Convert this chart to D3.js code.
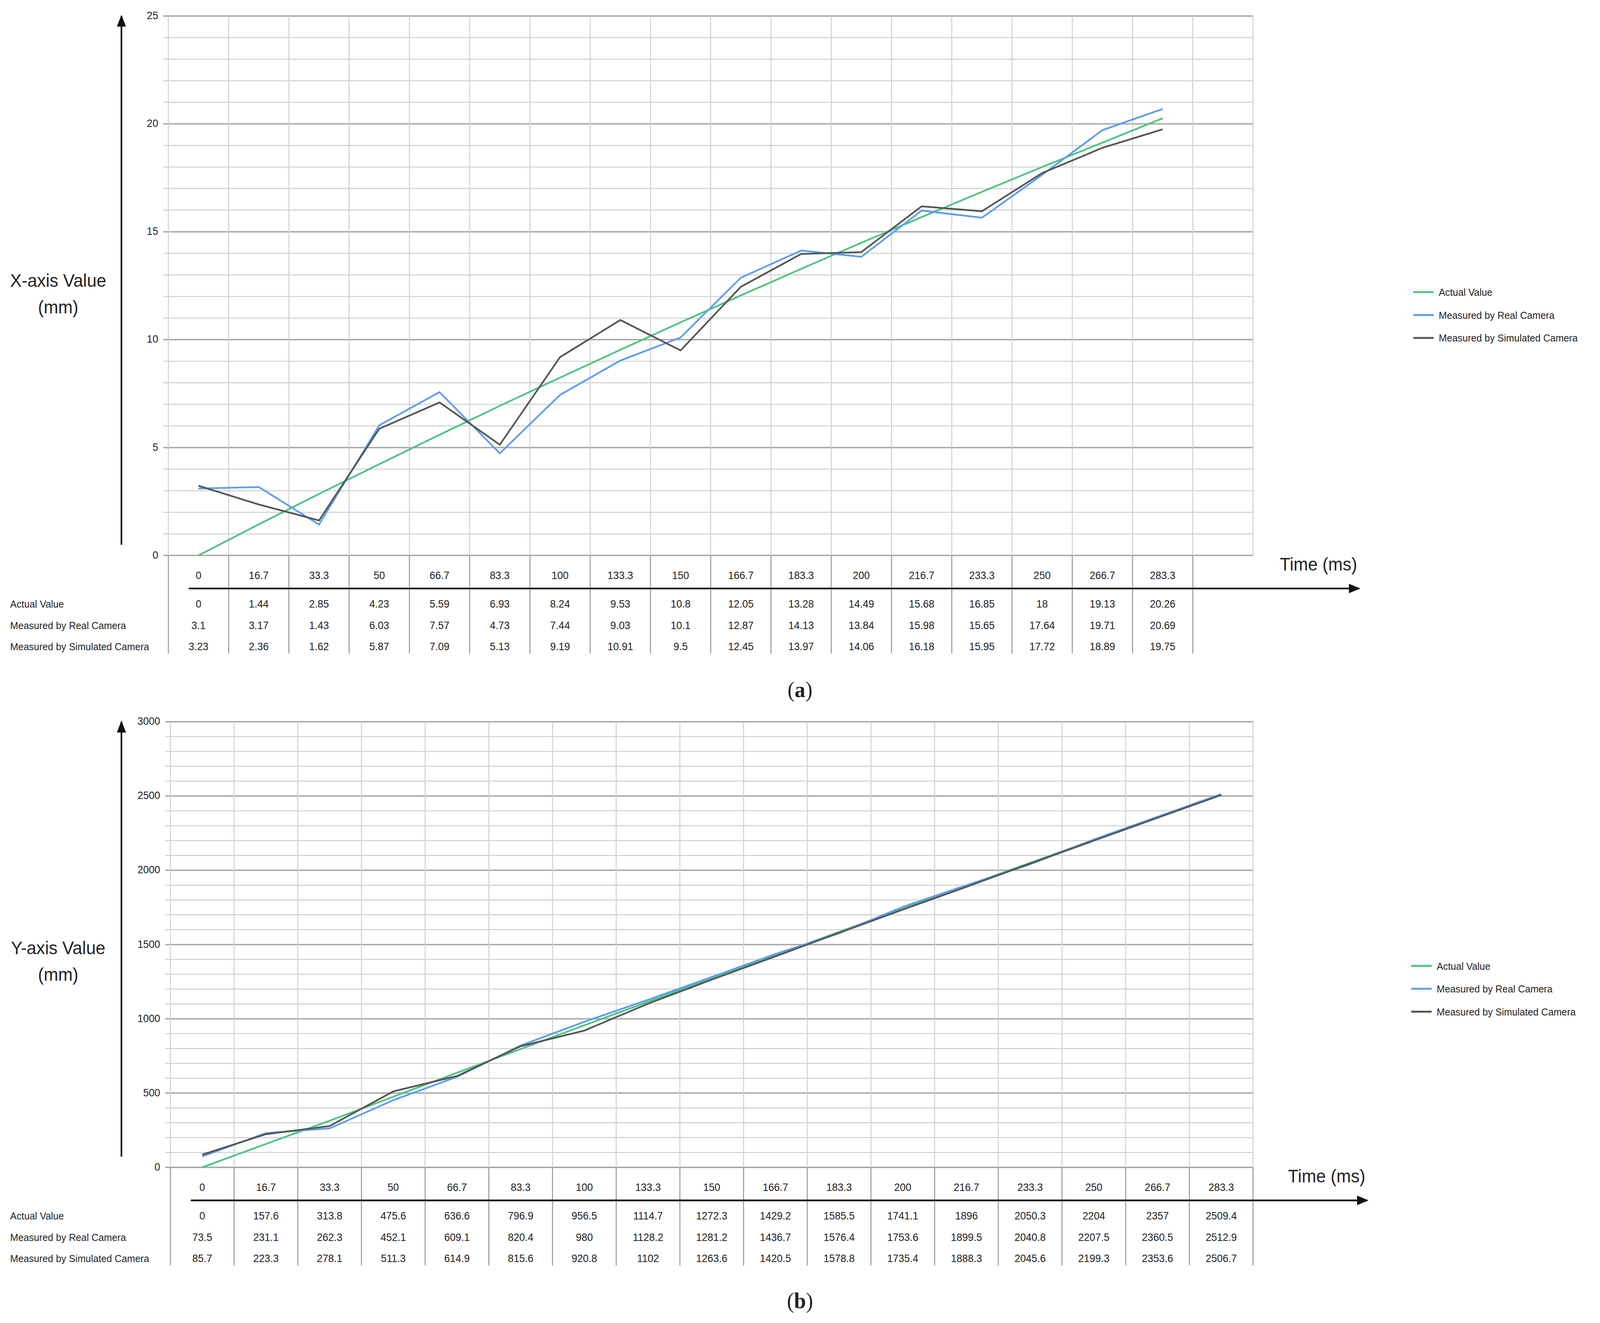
<!DOCTYPE html>
<html>
<head>
<meta charset="utf-8">
<script src="https://cdn.jsdelivr.net/npm/d3@7"></script>
<style>
  html, body { margin: 0; padding: 0; background: #fff; overflow: hidden; }
  svg { display: block; }
  text { font-family: "Liberation Sans Narrow", "Liberation Sans", sans-serif; fill: #222; }
</style>
</head>
<body>
<script>
// Shared categories (time in ms)
const times = ["0", "16.7", "33.3", "50", "66.7", "83.3", "100", "133.3", "150", "166.7", "183.3", "200", "216.7", "233.3", "250", "266.7", "283.3"];
const seriesNames = ["Actual Value", "Measured by Real Camera", "Measured by Simulated Camera"];
const seriesColors = ["#4cc47e", "#5b9cf2", "#555555"];

// Panel (a): X-axis value
const xActual = [0, 1.44, 2.85, 4.23, 5.59, 6.93, 8.24, 9.53, 10.8, 12.05, 13.28, 14.49, 15.68, 16.85, 18, 19.13, 20.26];
const xReal = [3.1, 3.17, 1.43, 6.03, 7.57, 4.73, 7.44, 9.03, 10.1, 12.87, 14.13, 13.84, 15.98, 15.65, 17.64, 19.71, 20.69];
const xSim = [3.23, 2.36, 1.62, 5.87, 7.09, 5.13, 9.19, 10.91, 9.5, 12.45, 13.97, 14.06, 16.18, 15.95, 17.72, 18.89, 19.75];

// Panel (b): Y-axis value
const yActual = [0, 157.6, 313.8, 475.6, 636.6, 796.9, 956.5, 1114.7, 1272.3, 1429.2, 1585.5, 1741.1, 1896, 2050.3, 2204, 2357, 2509.4];
const yReal = [73.5, 231.1, 262.3, 452.1, 609.1, 820.4, 980, 1128.2, 1281.2, 1436.7, 1576.4, 1753.6, 1899.5, 2040.8, 2207.5, 2360.5, 2512.9];
const ySim = [85.7, 223.3, 278.1, 511.3, 614.9, 815.6, 920.8, 1102, 1263.6, 1420.5, 1578.8, 1735.4, 1888.3, 2045.6, 2199.3, 2353.6, 2506.7];

const W = 1568, H = 1241;
const svg = d3.select("body").append("svg")
    .attr("width", "100vw").attr("height", "100vh")
    .attr("viewBox", `0 0 ${W} ${H}`)
    .attr("preserveAspectRatio", "none");

svg.append("defs").append("marker")
    .attr("id", "arrow").attr("viewBox", "0 0 10 10")
    .attr("refX", 9).attr("refY", 5)
    .attr("markerWidth", 7).attr("markerHeight", 7)
    .attr("orient", "auto")
  .append("path").attr("d", "M0,1 L10,5 L0,9 Z").attr("fill", "#111");

function drawPanel(p) {
    const g = svg.append("g");
    const x = d3.scaleBand().domain(d3.range(p.nCols)).range([p.left, p.right]);
    const y = d3.scaleLinear().domain([0, p.yMax]).range([p.bottom, p.top]);
    const cx = i => x(i) + x.bandwidth() / 2;

    // grid
    g.selectAll(".hg").data(d3.range(0, p.yMax + p.minor / 2, p.minor)).join("line")
        .attr("x1", p.left - 5).attr("x2", p.right)
        .attr("y1", d => y(d)).attr("y2", d => y(d))
        .attr("stroke", d => Math.abs(d % p.major) < 1e-9 ? "#a6a6a6" : "#d2d2d2")
        .attr("stroke-width", d => Math.abs(d % p.major) < 1e-9 ? 1.3 : 1);
    g.selectAll(".vg").data(d3.range(p.nCols + 1)).join("line")
        .attr("x1", i => p.left + i * x.bandwidth()).attr("x2", i => p.left + i * x.bandwidth())
        .attr("y1", p.top).attr("y2", p.bottom)
        .attr("stroke", "#d2d2d2");

    // y ticks
    g.selectAll(".yt").data(d3.range(0, p.yMax + 1, p.major)).join("text")
        .attr("x", p.left - 10).attr("y", d => y(d) + 3)
        .attr("text-anchor", "end").attr("font-size", 10).text(d => d);

    // table vertical lines
    const nTab = times.length;
    g.selectAll(".tv").data(d3.range(nTab + 1)).join("line")
        .attr("x1", i => p.left + i * x.bandwidth()).attr("x2", i => p.left + i * x.bandwidth())
        .attr("y1", p.bottom).attr("y2", p.bottom + 92)
        .attr("stroke", "#9a9a9a");

    // x tick labels
    g.selectAll(".xt").data(times).join("text")
        .attr("x", (d, i) => cx(i)).attr("y", p.bottom + 22)
        .attr("text-anchor", "middle").attr("font-size", 10).text(d => d);

    // horizontal arrow (time axis)
    g.append("line")
        .attr("x1", p.left + 20).attr("x2", p.arrowEnd)
        .attr("y1", p.bottom + 31).attr("y2", p.bottom + 31)
        .attr("stroke", "#111").attr("stroke-width", 1.6)
        .attr("marker-end", "url(#arrow)");
    g.append("text").attr("x", p.arrowEnd - 2).attr("y", p.bottom + 14)
        .attr("text-anchor", "end").attr("font-size", 17)
        .style("font-family", "Liberation Sans, sans-serif").text("Time (ms)");

    // table rows
    const rows = p.series;
    rows.forEach((vals, r) => {
        const ry = p.bottom + 49 + r * 20;
        g.append("text").attr("x", 10).attr("y", ry).attr("font-size", 9.5).text(seriesNames[r]);
        g.selectAll(".tr" + r).data(vals).join("text")
            .attr("x", (d, i) => cx(i)).attr("y", ry)
            .attr("text-anchor", "middle").attr("font-size", 10).text(d => d);
    });

    // vertical arrow
    g.append("line")
        .attr("x1", 119).attr("x2", 119)
        .attr("y1", p.bottom - 10).attr("y2", p.top)
        .attr("stroke", "#111").attr("stroke-width", 1.6)
        .attr("marker-end", "url(#arrow)");
    const lbl = g.append("text").attr("text-anchor", "middle").attr("font-size", 17)
        .style("font-family", "Liberation Sans, sans-serif");
    lbl.append("tspan").attr("x", 57).attr("y", p.labelY).text(p.yLabel);
    lbl.append("tspan").attr("x", 57).attr("y", p.labelY + 25).text("(mm)");

    // lines
    const line = d3.line().x((d, i) => cx(i)).y(d => y(d));
    rows.forEach((vals, r) => {
        g.append("path").datum(vals).attr("d", line)
            .attr("fill", "none").attr("stroke", seriesColors[r]).attr("stroke-width", 1.6);
    });

    // legend
    seriesNames.forEach((name, r) => {
        const ly = p.legendY + r * 21.5;
        g.append("line").attr("x1", p.legendX).attr("x2", p.legendX + 20)
            .attr("y1", ly).attr("y2", ly).attr("stroke", seriesColors[r]).attr("stroke-width", 1.8);
        g.append("text").attr("x", p.legendX + 25).attr("y", ly + 3.5)
            .attr("font-size", 9.5).text(name);
    });

    // caption
    const cap = g.append("text").attr("x", 784).attr("y", p.captionY).attr("text-anchor", "middle")
        .attr("font-size", 21).style("font-family", "Liberation Serif, serif");
    cap.append("tspan").text("(");
    cap.append("tspan").attr("font-weight", "bold").text(p.caption);
    cap.append("tspan").text(")");
}

drawPanel({
    left: 165, right: 1228, top: 15, bottom: 521, nCols: 18,
    yMax: 25, minor: 1, major: 5, arrowEnd: 1332,
    series: [xActual, xReal, xSim], yLabel: "X-axis Value", labelY: 269,
    legendX: 1385, legendY: 274, caption: "a", captionY: 654
});
drawPanel({
    left: 167, right: 1228, top: 677, bottom: 1095, nCols: 17,
    yMax: 3000, minor: 100, major: 500, arrowEnd: 1340,
    series: [yActual, yReal, ySim], yLabel: "Y-axis Value", labelY: 895,
    legendX: 1383, legendY: 906, caption: "b", captionY: 1227
});
</script>
</body>
</html>
